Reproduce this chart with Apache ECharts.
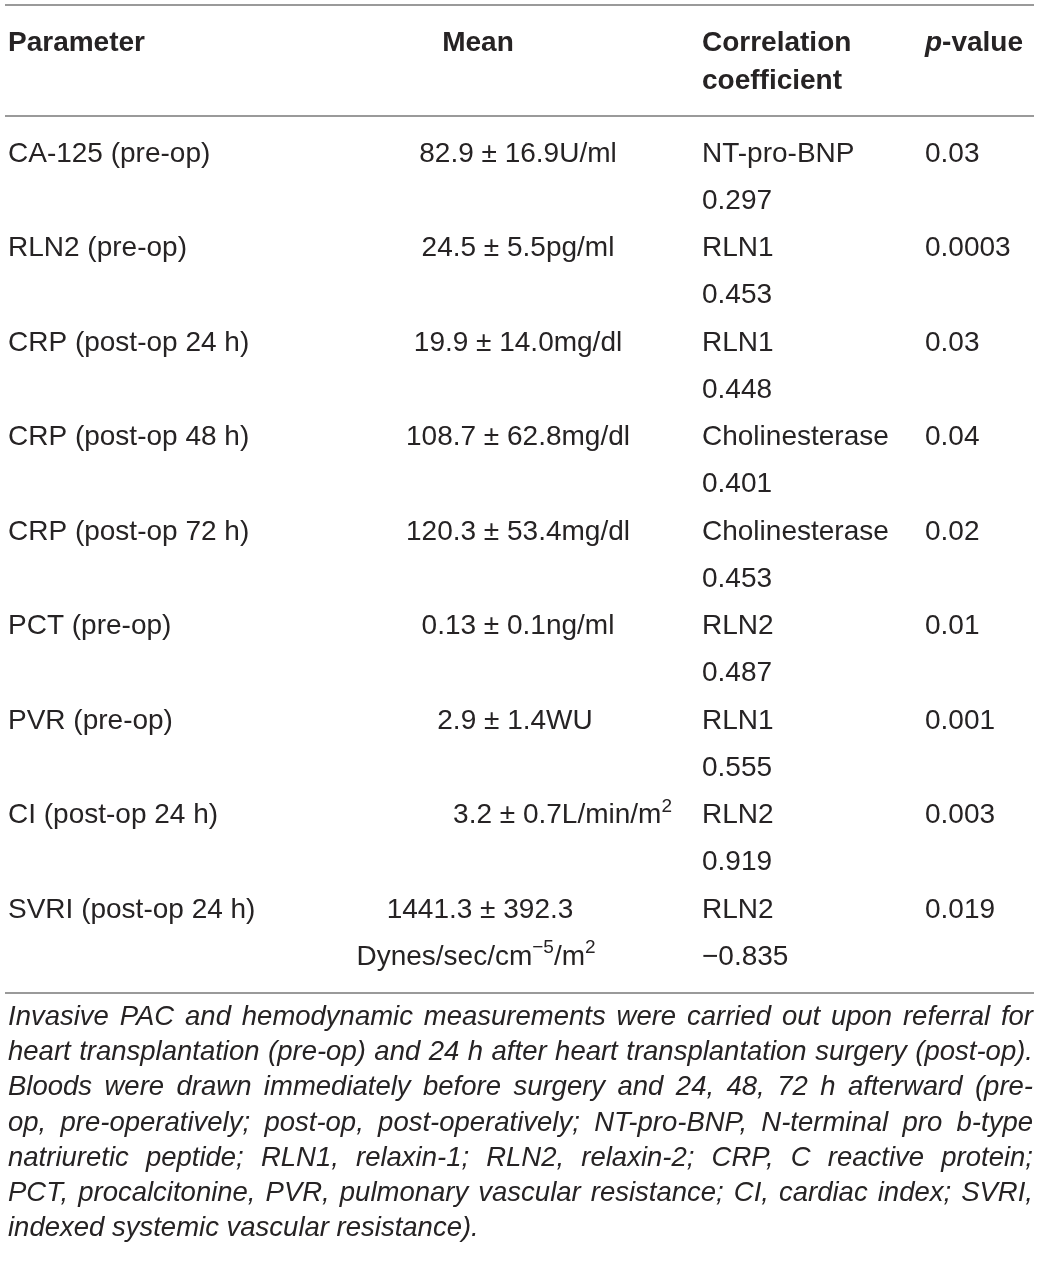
<!DOCTYPE html>
<html>
<head>
<meta charset="utf-8">
<script src="https://cdn.jsdelivr.net/npm/echarts@6/dist/echarts.min.js"></script>
<style>
  html, body { margin: 0; padding: 0; background: #fff; }
  #main { width: 1041px; height: 1265px; }
</style>
</head>
<body>
<div id="main"></div>
<script>
// table content
var headers = ['Parameter', 'Mean', 'Correlation\ncoefficient', '_{p}-value'];
var parameters = [
  'CA-125 (pre-op)', 'RLN2 (pre-op)', 'CRP (post-op 24 h)', 'CRP (post-op 48 h)',
  'CRP (post-op 72 h)', 'PCT (pre-op)', 'PVR (pre-op)', 'CI (post-op 24 h)', 'SVRI (post-op 24 h)'
];
var means = [
  ['82.9 ± 16.9U/ml'],
  ['24.5 ± 5.5pg/ml'],
  ['19.9 ± 14.0mg/dl'],
  ['108.7 ± 62.8mg/dl'],
  ['120.3 ± 53.4mg/dl'],
  ['0.13 ± 0.1ng/ml'],
  ['2.9 ± 1.4WU'],
  ['3.2 ± 0.7L/min/m^{2}'],
  ['1441.3 ± 392.3', 'Dynes/sec/cm^{−5}/m^{2}']
];
var correlatedWith = ['NT-pro-BNP', 'RLN1', 'RLN1', 'Cholinesterase', 'Cholinesterase', 'RLN2', 'RLN1', 'RLN2', 'RLN2'];
var coefficients = ['0.297', '0.453', '0.448', '0.401', '0.453', '0.487', '0.555', '0.919', '−0.835'];
var pValues = ['0.03', '0.0003', '0.03', '0.04', '0.02', '0.01', '0.001', '0.003', '0.019'];
var captionLines = [
  'Invasive PAC and hemodynamic measurements were carried out upon referral for',
  'heart transplantation (pre-op) and 24 h after heart transplantation surgery (post-op).',
  'Bloods were drawn immediately before surgery and 24, 48, 72 h afterward (pre-',
  'op, pre-operatively; post-op, post-operatively; NT-pro-BNP, N-terminal pro b-type',
  'natriuretic peptide; RLN1, relaxin-1; RLN2, relaxin-2; CRP, C reactive protein;',
  'PCT, procalcitonine, PVR, pulmonary vascular resistance; CI, cardiac index; SVRI,',
  'indexed systemic vascular resistance).'
];

// layout
var FONT = '"Liberation Sans", Helvetica, Arial, sans-serif';
var INK = '#262324';
var SIZE = 28, SUP = 19, CAP = 27.5;
var colX = [8, 518, 702, 925];
var meanAnchor = [518, 518, 518, 518, 518, 518, 515, 672, 480];
var meanAlign = ['center', 'center', 'center', 'center', 'center', 'center', 'center', 'right', 'center'];
var headY = 43, rowTop = 154, rowStep = 94.5, subStep = 47;

var ctx = document.createElement('canvas').getContext('2d');
function measure(t, size, weight, style) {
  ctx.font = (style || 'normal') + ' ' + (weight || 'normal') + ' ' + size + 'px ' + FONT;
  return ctx.measureText(t).width;
}

var elements = [];
function txt(t, x, y, o) {
  o = o || {};
  elements.push({
    type: 'text', silent: true,
    style: {
      text: t, x: x, y: y, fill: INK,
      fontFamily: FONT, fontSize: o.size || SIZE,
      fontWeight: o.weight || 'normal', fontStyle: o.style || 'normal',
      align: o.align || 'left', verticalAlign: 'middle'
    }
  });
}

// markup: ^{..} superscript, _{..} italic
function run(markup, x, y, align, weight) {
  var parts = markup.split(/(\^\{[^}]*\}|_\{[^}]*\})/).filter(function (s) { return s; });
  var segs = parts.map(function (p) {
    var s = { t: p, size: SIZE, style: 'normal', dy: 0 };
    if (p[0] === '^') { s.t = p.slice(2, -1); s.size = SUP; s.dy = -9; }
    if (p[0] === '_') { s.t = p.slice(2, -1); s.style = 'italic'; }
    s.w = measure(s.t, s.size, weight, s.style);
    return s;
  });
  var total = segs.reduce(function (a, s) { return a + s.w; }, 0);
  var cx = align === 'center' ? x - total / 2 : align === 'right' ? x - total : x;
  segs.forEach(function (s) {
    txt(s.t, cx, y + s.dy, { size: s.size, style: s.style, weight: weight });
    cx += s.w;
  });
}

function hline(y) {
  elements.push({
    type: 'line', silent: true,
    shape: { x1: 5, y1: y, x2: 1034, y2: y },
    style: { stroke: '#9a9a9a', lineWidth: 2 }
  });
}

hline(5); hline(116); hline(993);

// header
run(headers[0], colX[0], headY, 'left', 'bold');
run(headers[1], 478, headY, 'center', 'bold');
headers[2].split('\n').forEach(function (l, i) { run(l, colX[2], headY + i * 38, 'left', 'bold'); });
run(headers[3], colX[3], headY, 'left', 'bold');

// rows
parameters.forEach(function (p, i) {
  var y = rowTop + i * rowStep;
  run(p, colX[0], y, 'left');
  means[i].forEach(function (m, k) {
    var ax = meanAnchor[i] - (k ? 4 : 0);
    run(m, ax, y + k * subStep, meanAlign[i]);
  });
  run(correlatedWith[i], colX[2], y, 'left');
  run(coefficients[i], colX[2], y + subStep, 'left');
  run(pValues[i], colX[3], y, 'left');
});

// caption, justified
var capX0 = 8, capX1 = 1033, capY = 1017, capStep = 35.3;
captionLines.forEach(function (line, i) {
  var y = capY + i * capStep;
  var words = line.split(' ');
  var widths = words.map(function (w) { return measure(w, CAP, 'normal', 'italic'); });
  var sum = widths.reduce(function (a, b) { return a + b; }, 0);
  var last = i === captionLines.length - 1;
  var gap = last ? measure(' ', CAP, 'normal', 'italic') : (capX1 - capX0 - sum) / (words.length - 1);
  var x = capX0;
  words.forEach(function (w, k) {
    txt(w, x, y, { size: CAP, style: 'italic' });
    x += widths[k] + gap;
  });
});

var chart = echarts.init(document.getElementById('main'), null, { renderer: 'canvas' });
chart.setOption({
  backgroundColor: '#ffffff',
  animation: false,
  graphic: { elements: elements }
});
</script>
</body>
</html>
